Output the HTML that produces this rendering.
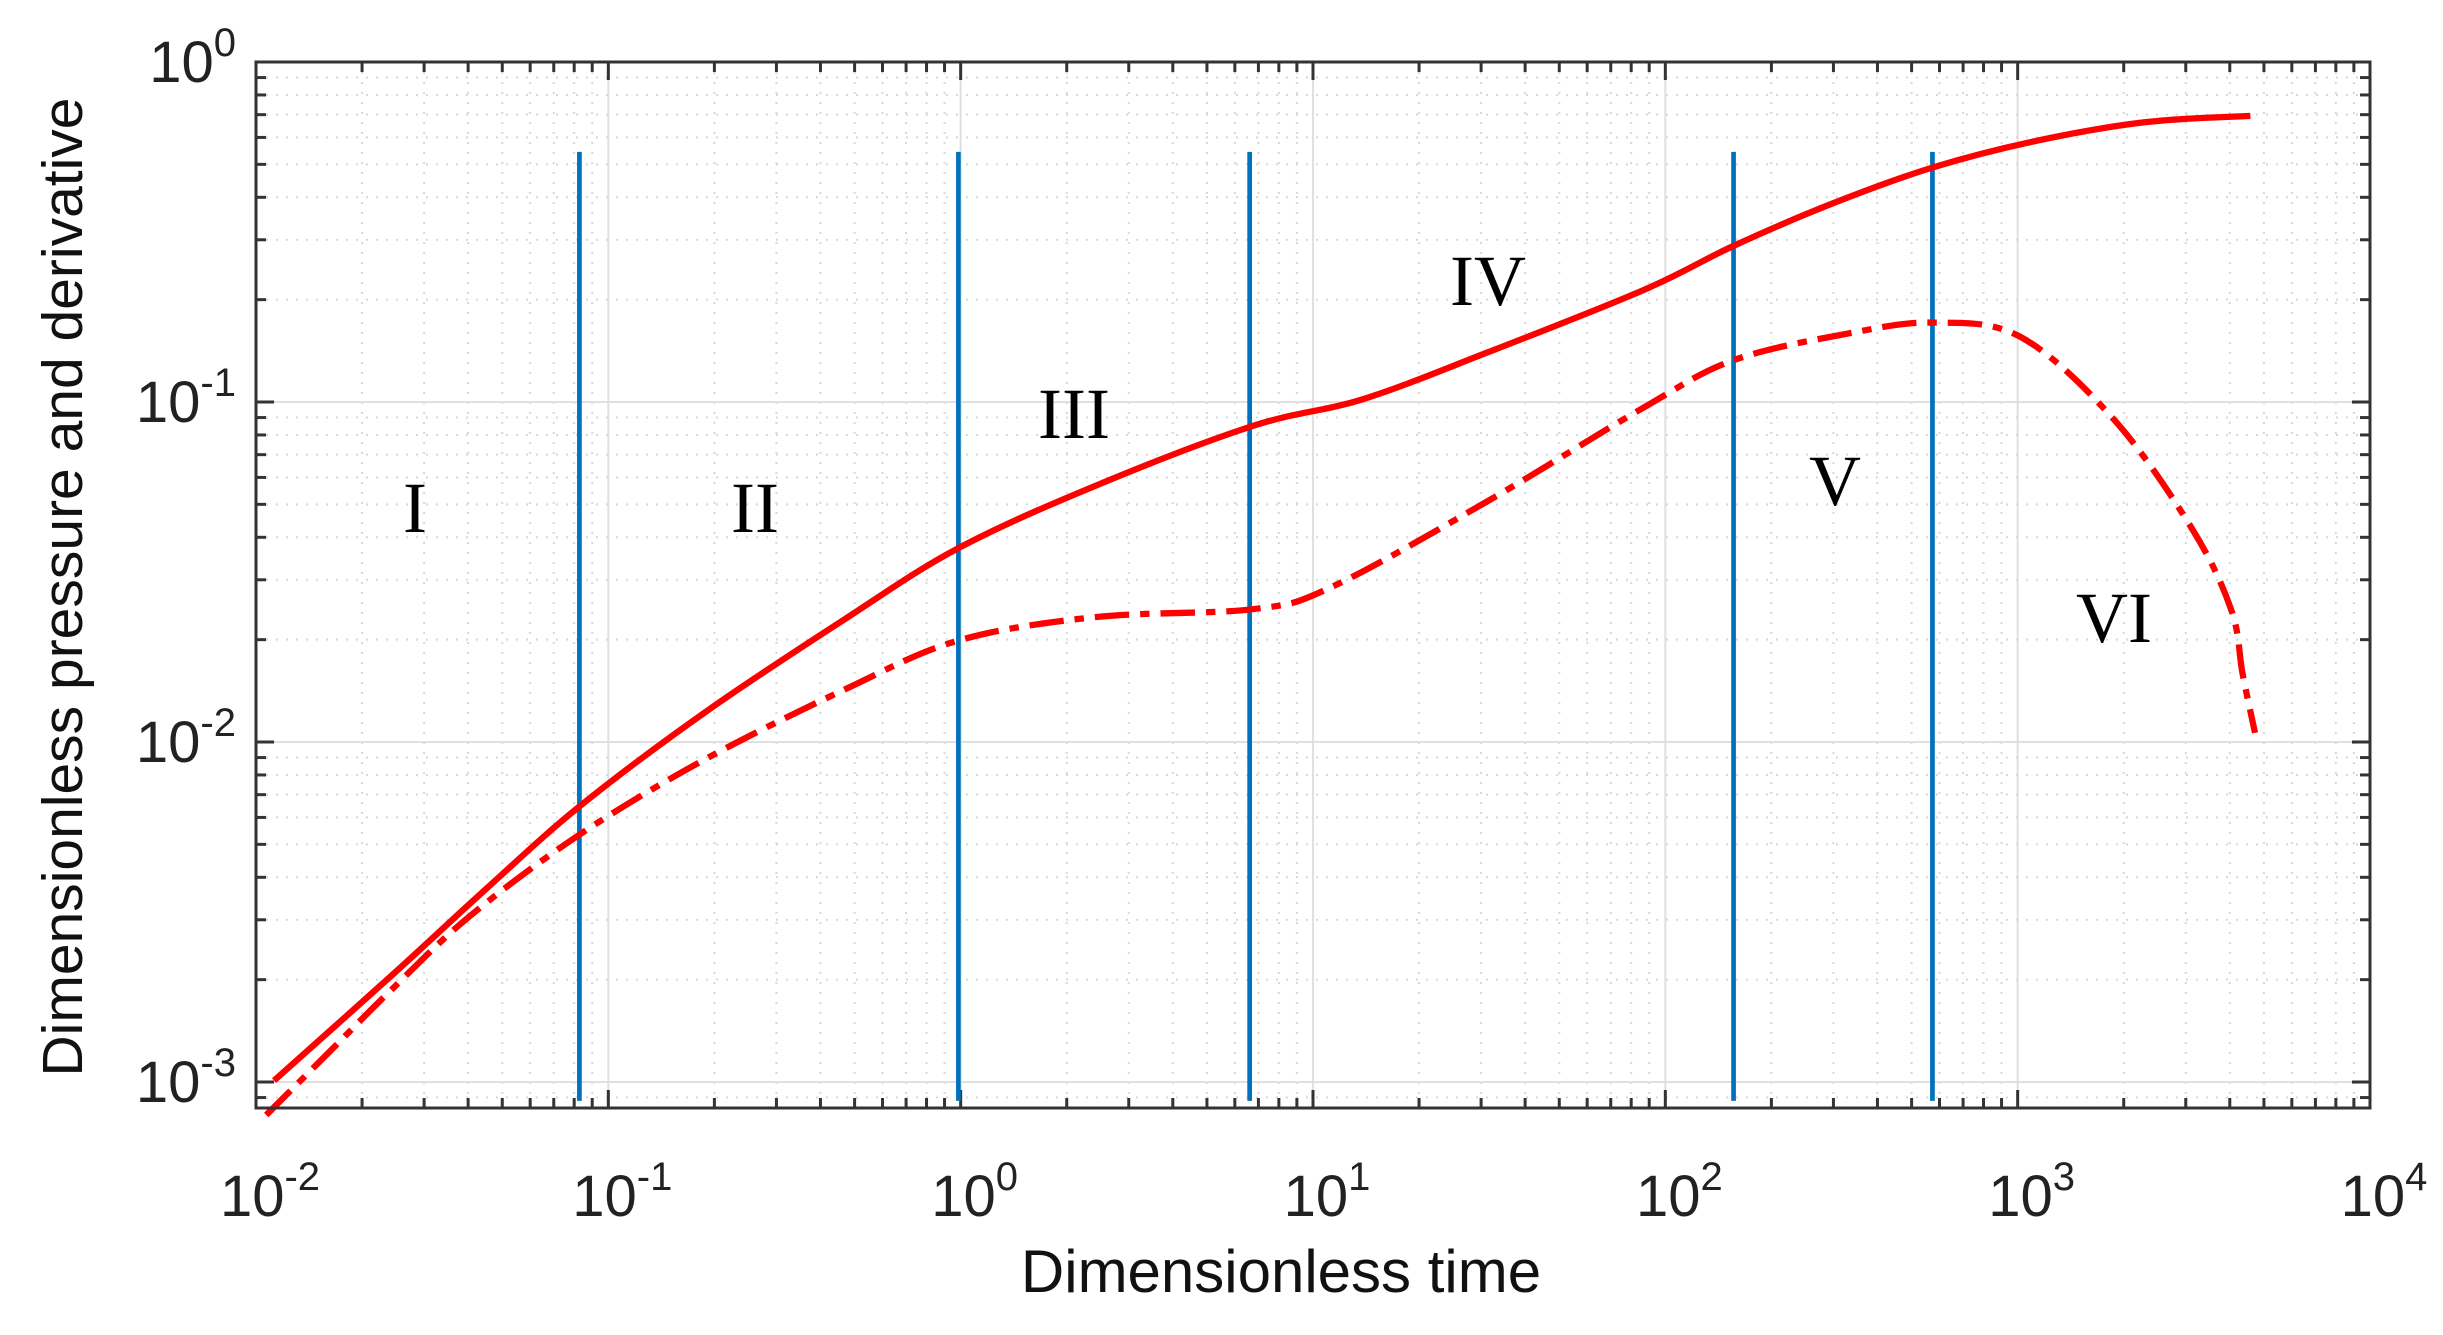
<!DOCTYPE html>
<html><head><meta charset="utf-8"><style>
html,body{margin:0;padding:0;background:#fff;}
svg{display:block;}
</style></head><body>
<svg id="s" width="2443" height="1335" viewBox="0 0 2443 1335" xmlns="http://www.w3.org/2000/svg">
<rect width="2443" height="1335" fill="#fff"/>
<g id="grid"></g>
<g id="ticks"></g>
<g transform="scale(1.566)" fill="none">
<g stroke="#0072BD" stroke-width="3">
<line x1="370" y1="97" x2="370" y2="703"/>
<line x1="612" y1="97" x2="612" y2="703"/>
<line x1="798" y1="97" x2="798" y2="703"/>
<line x1="1107" y1="97" x2="1107" y2="703"/>
<line x1="1234" y1="97" x2="1234" y2="703"/>
</g>
<path id="p1" stroke="#ff0000" stroke-width="4" d=""/>
<path id="p2" stroke="#ff0000" stroke-width="4" stroke-dasharray="22 7 6 7" d=""/>
</g>
<rect x="256" y="62" width="2114" height="1046" fill="none" stroke="#333" stroke-width="3"/>
<g font-family="Liberation Serif, serif" font-size="72" fill="#000" text-anchor="middle">
<text x="415" y="532">I</text>
<text x="755" y="532">II</text>
<text x="1074" y="438">III</text>
<text x="1488" y="305">IV</text>
<text x="1835" y="505">V</text>
<text x="2114" y="642">VI</text>
</g>
<g id="labels" font-family="Liberation Sans, sans-serif" fill="#222"></g>
<text x="1281" y="1292" font-family="Liberation Sans, sans-serif" font-size="60" fill="#111" text-anchor="middle">Dimensionless time</text>
<text transform="translate(82,587) rotate(-90)" font-family="Liberation Sans, sans-serif" font-size="57" fill="#111" text-anchor="middle">Dimensionless pressure and derivative</text>
</svg>
<script>
var NS="http://www.w3.org/2000/svg";
var L=256,R=2370,T=62,B=1108,DX=(R-L)/6,DY=340;
function X(lt){return L+(lt+2)*DX;}
function Y(lp){return T-lp*DY;}
var g=document.getElementById('grid'),tk=document.getElementById('ticks'),lb=document.getElementById('labels');
function ln(p,x1,y1,x2,y2,st,w,da){var e=document.createElementNS(NS,'line');e.setAttribute('x1',x1);e.setAttribute('y1',y1);e.setAttribute('x2',x2);e.setAttribute('y2',y2);e.setAttribute('stroke',st);e.setAttribute('stroke-width',w);if(da)e.setAttribute('stroke-dasharray',da);p.appendChild(e);}
for(var d=-2;d<4;d++){for(var m=1;m<10;m++){var x=X(d+Math.log10(m));if(m==1){if(d>-2)ln(g,x,T,x,B,'#e0e0e0',2);ln(tk,x,B,x,B-18,'#333',3);ln(tk,x,T,x,T+18,'#333',3);}else{ln(g,x,T,x,B,'#d8d8d8',2,'2 8');ln(tk,x,B,x,B-10,'#333',3);ln(tk,x,T,x,T+10,'#333',3);}}}
for(var d=-4;d<0;d++){for(var m=1;m<10;m++){var y=Y(d+Math.log10(m));if(y<T||y>B)continue;if(m==1){ln(g,L,y,R,y,'#e0e0e0',2);ln(tk,L,y,L+18,y,'#333',3);ln(tk,R,y,R-18,y,'#333',3);}else{ln(g,L,y,R,y,'#d8d8d8',2,'2 8');ln(tk,L,y,L+10,y,'#333',3);ln(tk,R,y,R-10,y,'#333',3);}}}
function lab(x,y,e,anchor){var t=document.createElementNS(NS,'text');t.setAttribute('x',x);t.setAttribute('y',y);t.setAttribute('font-size','58');t.setAttribute('text-anchor',anchor);t.innerHTML='10<tspan font-size="40" dy="-26">'+e+'</tspan>';lb.appendChild(t);}
for(var d=-2;d<=4;d++)lab(X(d)+14,1216,d,'middle');
for(var d=0;d>=-3;d--)lab(236,Y(d)+20,d,'end');
var s1=[[175,690],[250,623],[310,568],[370,515],[450,455],[540,395],[612,350],[700,310],[800,272],[870,255],[950,225],[1050,185],[1107,157],[1170,130],[1234,107],[1300,90],[1370,78],[1437,74]];
var s2=[[170,712],[210,672],[250,632],[300,585],[370,533],[450,485],[540,440],[612,409],[700,394],[800,389],[850,375],[950,320],[1050,260],[1107,230],[1180,213],[1234,206],[1290,215],[1350,268],[1400,338],[1425,390],[1432,430],[1440,468]];
function path(p){var d='M'+p[0][0]+','+p[0][1];for(var i=1;i<p.length;i++){var p0=p[i-2]||p[i-1],p1=p[i-1],p2=p[i],p3=p[i+1]||p[i];var c1x=p1[0]+(p2[0]-p0[0])/6,c1y=p1[1]+(p2[1]-p0[1])/6,c2x=p2[0]-(p3[0]-p1[0])/6,c2y=p2[1]-(p3[1]-p1[1])/6;d+=' C'+c1x+','+c1y+' '+c2x+','+c2y+' '+p2[0]+','+p2[1];}return d;}
document.getElementById('p1').setAttribute('d',path(s1));
document.getElementById('p2').setAttribute('d',path(s2));
</script>
</body></html>
